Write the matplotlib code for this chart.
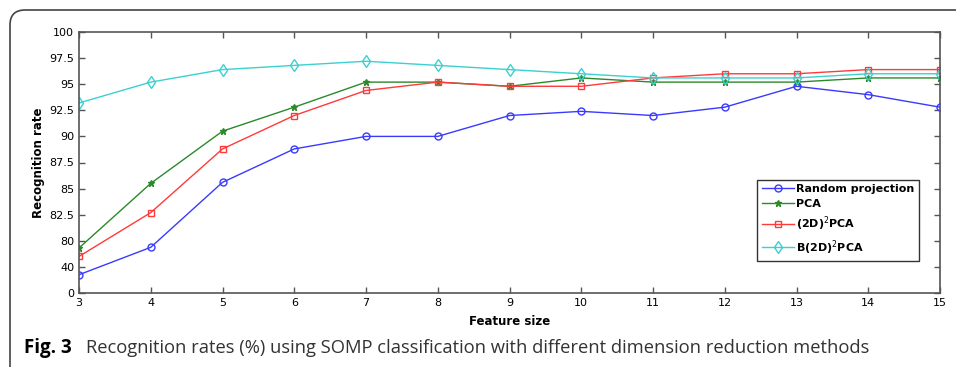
import numpy as np
import matplotlib
matplotlib.use("Agg")
import matplotlib.pyplot as plt
from matplotlib.patches import FancyBboxPatch

feature_size = [3, 4, 5, 6, 7, 8, 9, 10, 11, 12, 13, 14, 15]
random_proj = [28, 70, 85.6, 88.8, 90, 90, 92.0, 92.4, 92.0, 92.8, 94.8, 94.0, 92.8]
pca = [69, 85.5, 90.5, 92.8, 95.2, 95.2, 94.8, 95.6, 95.2, 95.2, 95.2, 95.6, 95.6]
pca2d2 = [56, 82.7, 88.8, 92.0, 94.4, 95.2, 94.8, 94.8, 95.6, 96.0, 96.0, 96.4, 96.4]
bpca2d2 = [93.2, 95.2, 96.4, 96.8, 97.2, 96.8, 96.4, 96.0, 95.6, 95.6, 95.6, 96.0, 96.0]
ytick_vals = [0, 40, 80, 82.5, 85, 87.5, 90, 92.5, 95, 97.5, 100]
ytick_labels = ["0", "40", "80", "82.5", "85", "87.5", "90", "92.5", "95", "97.5", "100"]

idx = np.arange(len(ytick_vals), dtype=float)
def fwd(v):
    return np.interp(v, ytick_vals, idx)
def inv(i):
    return np.interp(i, idx, ytick_vals)

fig = plt.figure(figsize=(9.56, 3.67), dpi=100)
W, H = 956, 367
ax = fig.add_axes([79 / W, 1 - 293 / H, (940 - 79) / W, (293 - 32) / H])
ax.set_yscale('function', functions=(fwd, inv))

styles = [
    (random_proj, '#3a3aff', 'o', 'Random projection', 5, 'none'),
    (pca, '#2a8a2a', '*', 'PCA', 4.5, None),
    (pca2d2, '#ff3a3a', 's', '(2D)$^2$PCA', 5, 'none'),
    (bpca2d2, '#3cd0d0', 'd', 'B(2D)$^2$PCA', 6, 'none'),
]
for vals, c, m, lab, ms, mfc in styles:
    kw = dict(color=c, marker=m, markersize=ms, linewidth=1.0, label=lab,
              markeredgewidth=1.0)
    if mfc == 'none':
        kw['markerfacecolor'] = 'none'
    ax.plot(feature_size, vals, **kw)

ax.set_xlim(3, 15)
ax.set_ylim(0, 100)
ax.set_xticks(feature_size)
ax.set_yticks(ytick_vals)
ax.set_yticklabels(ytick_labels)
ax.minorticks_off()
ax.tick_params(direction='in', top=True, right=True, length=4, labelsize=8,
               color='#555555', width=1)
for s in ax.spines.values():
    s.set_color('#555555')
    s.set_linewidth(1.2)
ax.set_xlabel('Feature size', fontsize=8.5, fontweight='bold', labelpad=5)
ax.set_ylabel('Recognition rate', fontsize=8.5, fontweight='bold', labelpad=3)

leg = ax.legend(loc='lower right', bbox_to_anchor=((919 - 79) / (940 - 79), (293 - 261) / 261),
                borderaxespad=0,
                prop={'weight': 'bold', 'size': 8}, fancybox=False, framealpha=1,
                edgecolor='#333333', handlelength=2.9, borderpad=0.4, labelspacing=0.45,
                handletextpad=0.2)
leg.get_frame().set_linewidth(1.0)

box = FancyBboxPatch((0.10, -0.5), 12.0, 3.57 + 0.5,
                     boxstyle='round,pad=0,rounding_size=0.15', transform=fig.dpi_scale_trans,
                     facecolor='none', edgecolor='#444444', linewidth=1.2)
fig.patches.append(box)

fig.text(24 / W, 1 - 348 / H, 'Fig. 3', fontsize=13.5, fontweight='bold',
         family='Open Sans', va='center', ha='left')
fig.text(86 / W, 1 - 348 / H, 'Recognition rates (%) using SOMP classification with different dimension reduction methods',
         fontsize=13.2, family='Open Sans', va='center', ha='left', color='#333333')

fig.savefig('out.png', dpi=100)
